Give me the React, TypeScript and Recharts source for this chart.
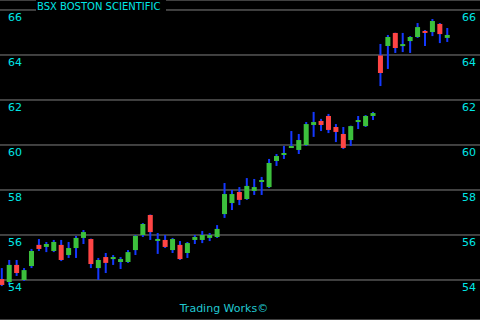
import React from "react";
import { ComposedChart, Bar, XAxis, YAxis, CartesianGrid } from "recharts";

const opens = [
  54.04, 53.91, 54.67, 54.0, 54.62, 55.56, 55.47, 55.29, 55.56, 55.11,
  55.42, 55.87, 55.82, 54.53, 55.02, 54.93, 54.8, 54.8, 55.33, 56.0,
  56.89, 55.78, 55.78, 55.33, 55.56, 55.2, 55.78, 55.78, 55.87, 55.91,
  56.93, 57.42, 57.91, 57.6, 57.96, 58.4, 58.13, 59.29, 59.6, 59.91,
  59.78, 60.0, 60.89, 61.07, 61.29, 60.8, 60.49, 60.22, 61.02, 60.84,
  61.29, 63.98, 64.4, 64.98, 64.44, 64.62, 64.8, 65.07, 65.02, 65.38,
  64.76,
];
const highs = [
  54.53, 54.89, 54.89, 54.53, 55.38, 55.82, 55.69, 55.78, 55.78, 55.69,
  55.96, 56.22, 55.84, 54.98, 55.2, 55.11, 55.02, 55.33, 56.0, 56.53,
  56.91, 56.09, 56.0, 55.87, 55.73, 55.69, 56.0, 56.18, 56.09, 56.44,
  58.31, 58.0, 58.13, 58.53, 58.49, 58.58, 59.38, 59.6, 59.96, 60.62,
  60.49, 61.02, 61.47, 61.16, 61.38, 60.93, 60.8, 60.86, 61.29, 61.33,
  61.47, 64.49, 64.89, 64.99, 64.98, 64.84, 65.42, 65.11, 65.6, 65.42,
  65.2,
];
const lows = [
  53.73, 53.78, 54.18, 53.96, 54.53, 55.29, 55.24, 55.24, 54.84, 54.98,
  54.98, 55.6, 54.53, 54.0, 54.31, 54.67, 54.49, 54.76, 55.11, 55.91,
  55.78, 55.16, 55.42, 55.2, 54.89, 54.98, 55.6, 55.64, 55.73, 55.87,
  56.76, 57.11, 57.33, 57.56, 57.78, 57.78, 58.09, 59.07, 59.38, 59.87,
  59.6, 59.96, 60.36, 60.62, 60.53, 60.13, 59.82, 59.96, 60.71, 60.8,
  61.11, 62.62, 63.38, 64.09, 64.13, 64.09, 64.76, 64.4, 64.84, 64.53,
  64.58,
];
const closes = [
  53.78, 54.67, 54.31, 54.44, 55.29, 55.38, 55.6, 55.69, 54.89, 55.42,
  55.87, 56.13, 54.71, 54.89, 54.76, 55.02, 54.93, 55.24, 55.96, 56.49,
  56.13, 55.78, 55.47, 55.82, 54.93, 55.64, 55.91, 56.0, 56.0, 56.27,
  57.82, 57.82, 57.56, 58.18, 58.13, 58.4, 59.2, 59.51, 59.6, 59.91,
  60.22, 60.93, 61.02, 60.89, 60.67, 60.58, 59.87, 60.84, 61.11, 61.29,
  61.42, 63.2, 64.8, 64.31, 64.44, 64.8, 65.24, 64.98, 65.51, 64.93,
  64.89,
];
const priceTicks = [54, 56, 58, 60, 62, 64, 66];
const title = "BSX  BOSTON SCIENTIFIC";
const footer = "Trading Works©";

const data = opens.map((o, i) => ({
  i,
  open: o,
  high: highs[i],
  low: lows[i],
  close: closes[i],
}));

const W = 480;
const H = 320;
const GREEN = "#3cc03c";
const RED = "#ff4545";
const BLUE = "#1438ff";
const CYAN = "#00e6e6";

const Candle = (props: any) => {
  const { x, y, width, height, payload } = props;
  if (payload == null || height == null) return null;
  const top = Math.min(y, y + height);
  const h = Math.abs(height);
  const range = payload.high - payload.low;
  const k = range > 0 ? h / range : 0;
  const cx = x + width / 2;
  const bt = top + (payload.high - Math.max(payload.open, payload.close)) * k;
  const bb = top + (payload.high - Math.min(payload.open, payload.close)) * k;
  const up = payload.close >= payload.open;
  const doji = bb - bt < 1;
  return (
    <g>
      <rect x={cx - 1} y={top} width={2} height={h} fill={BLUE} />
      {doji ? (
        <rect x={x} y={bt - 1} width={width} height={2} fill={GREEN} />
      ) : (
        <rect x={x} y={bt} width={width} height={bb - bt} fill={up ? GREEN : RED} />
      )}
    </g>
  );
};

const leftTick = (props: any) => {
  const { y, payload } = props;
  return (
    <text x={8} y={y + 11} fill={CYAN} fontSize={11} fontFamily="DejaVu Sans">
      {payload.value}
    </text>
  );
};

const rightTick = (props: any) => {
  const { y, payload } = props;
  return (
    <text x={476} y={y + 11} fill={CYAN} fontSize={11} fontFamily="DejaVu Sans" textAnchor="end">
      {payload.value}
    </text>
  );
};

export default function App() {
  return (
    <div style={{ position: "absolute", left: 0, top: 0, width: W, height: H, background: "#000" }}>
      <ComposedChart width={W} height={H} data={data} margin={{ top: 0, right: 0, bottom: 0, left: 0 }}>
        <CartesianGrid yAxisId="L" vertical={false} stroke="#808080" />
        <XAxis type="number" dataKey="i" domain={[-0.27, 64.38]} allowDataOverflow hide />
        <YAxis
          yAxisId="L"
          type="number"
          orientation="left"
          mirror
          width={40}
          domain={[52.2222, 66.4444]}
          ticks={priceTicks}
          interval={0}
          allowDataOverflow
          axisLine={false}
          tickLine={false}
          tick={leftTick}
        />
        <YAxis
          yAxisId="R"
          type="number"
          orientation="right"
          mirror
          width={40}
          domain={[52.2222, 66.4444]}
          ticks={priceTicks}
          interval={0}
          allowDataOverflow
          axisLine={false}
          tickLine={false}
          tick={rightTick}
        />
        <Bar
          yAxisId="L"
          dataKey={(d: any) => [d.low, d.high]}
          barSize={5}
          shape={<Candle />}
          isAnimationActive={false}
        />
      </ComposedChart>
      <svg width={W} height={H} style={{ position: "absolute", left: 0, top: 0, pointerEvents: "none" }}>
        <rect x={36} y={0} width={130} height={11} fill="#000" />
        <text x={37} y={10} fill={CYAN} fontSize={10} fontFamily="DejaVu Sans">
          {title}
        </text>
        <text x={224} y={312} fill="#20c8d0" fontSize={11} fontFamily="DejaVu Sans" textAnchor="middle">
          {footer}
        </text>
      </svg>
    </div>
  );
}
